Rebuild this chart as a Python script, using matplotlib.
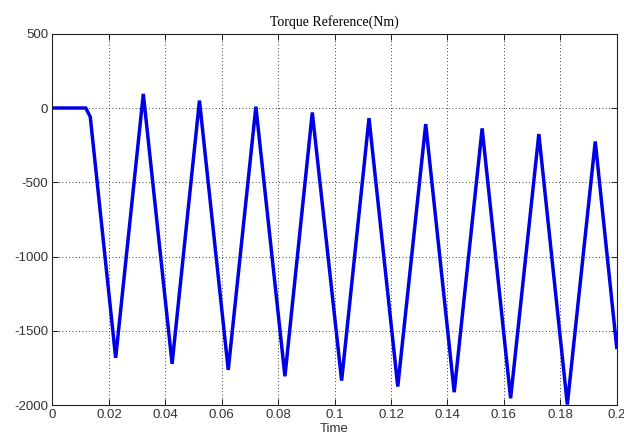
import matplotlib
matplotlib.use("Agg")
import matplotlib.pyplot as plt

plt.rcParams["axes.unicode_minus"] = False

# vertices of the torque reference waveform
time_pts = [0.0, 0.0118, 0.0134, 0.0224, 0.0322, 0.0424, 0.0521, 0.0623, 0.0721,
            0.0824, 0.0921, 0.1025, 0.1122, 0.1224, 0.1323, 0.1424, 0.1523,
            0.1624, 0.1724, 0.1825, 0.1924, 0.2]
torque_pts = [0, 0, -60, -1681, 95, -1721, 50, -1762, 9,
              -1805, -30, -1834, -68, -1874, -108, -1912, -137,
              -1953, -175, -1995, -225, -1610]

x_ticks = [0, 0.02, 0.04, 0.06, 0.08, 0.1, 0.12, 0.14, 0.16, 0.18, 0.2]
x_tick_labels = ["0", "0.02", "0.04", "0.06", "0.08", "0.1", "0.12", "0.14", "0.16", "0.18", "0.2"]
y_ticks = [-2000, -1500, -1000, -500, 0, 500]

fig = plt.figure(figsize=(6.24, 4.41), dpi=100, facecolor="white")
ax = fig.add_axes([0.0841, 0.081, 0.9042, 0.8426])

ax.plot(time_pts, torque_pts, color="#0000e6", linewidth=2.5, solid_joinstyle="miter")

ax.set_xlim(0, 0.2)
ax.set_ylim(-2000, 500)
ax.set_xticks(x_ticks)
ax.set_xticklabels(x_tick_labels)
ax.set_yticks(y_ticks)

ax.grid(True, color="black", linestyle=(0, (1, 3)), linewidth=0.6)
ax.tick_params(direction="in", top=True, right=True, length=4, width=0.6,
               labelsize=9.5, pad=3, colors="black")
for lbl in ax.get_xticklabels() + ax.get_yticklabels():
    lbl.set_family("Liberation Sans")
    lbl.set_color("#333333")
for sp in ax.spines.values():
    sp.set_linewidth(0.8)
    sp.set_color("#222222")

ax.set_title("Torque Reference(Nm)", family="Liberation Serif", fontsize=10, pad=6)
ax.set_xlabel("Time", family="Liberation Sans", fontsize=9.5, labelpad=1, color="#333333")

fig.savefig("out.png", dpi=100)
